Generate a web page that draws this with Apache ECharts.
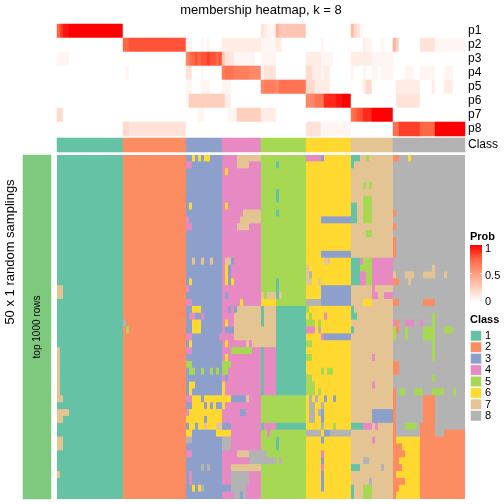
<!DOCTYPE html>
<html><head><meta charset="utf-8">
<script src="https://cdn.jsdelivr.net/npm/echarts@6/dist/echarts.min.js"></script>
<style>html,body{margin:0;padding:0;background:#fff}#c{width:504px;height:504px}</style>
</head><body><div id="c"></div>
<script>
// ---------- data ----------
const probNames = ['p1','p2','p3','p4','p5','p6','p7','p8'];
// probability level characters: index/20 = probability
const probLevelChars = "0123456789ABCDEFGHIJK";
// run-length encoded rows (symbol, optional x count), '|' separates class blocks
const probRows = [
  "F H Jx2 Kx18|0x21|0x12|0x13|3 2 1x3 8 6x9|0x15|7 4 3 1 0x10|0x24",
  "0x22|Fx2 Gx19|1x2 0x3 1 0 1 0x4|2x13|1x5 2x2 0x8|0x5 1 0x9|0x4 2 1x2 0x3 1 0x3|8 5 0x7 3x5 1x10",
  "1x4 0x18|0x21|C E F G F G G H G G F G|6 3x3 1x7 0x2|1x5 0x10|2x5 1x4 0x6|2x7 1x7|0x24",
  "0x22|0 1 0x19|3x2 0x3 1 0x6|D Ex3 Dx5 Cx4|1 3x4 0x10|4x2 2x3 1 2x2 0x7|1 0x3 1 0x2 1x2 0 1x4|0x4 1x3 0x2 1x5 0x3 1x3 0x4",
  "0x22|0x21|1x2 0x3 1x3 0x4|1x3 0x10|C Dx4 C Ex9|4x3 2x5 0x7|0x4 2 4x2 0x7|0 2x8 0x4 2 0x3 2x3 0x4",
  "0x22|0x21|1 5x11|5 2x2 0x10|0x15|Cx3 Ex3 Ix4 Jx2 Kx3|0x14|0 3x8 0x15",
  "4x2 0x20|0x21|0x4 1x2 0x6|0x2 1x3 5x8|2x5 0x10|0x15|E F G G Ix3 Kx7|0x24",
  "0x22|4x2 3x19|0x12|0x13|0x15|3x5 1x10|0x14|Ex2 Hx7 Fx5 Kx10"
];
const classNames = ['1','2','3','4','5','6','7','8'];
const classColors = ['#66C2A5','#FC8D62','#8DA0CB','#E78AC3','#A6D854','#FFD92F','#E5C494','#B3B3B3'];
const classSizes = [22,21,12,13,15,15,14,24];
const probColors = ['#FFFFFF','#FFCFBE','#FF9E81','#FF6846','#FF0000'];
const probTicks = ['1','0.5','0'];
// 50 random samplings x 136 columns (class per cell), run-length encoded
const samplingRows = [
"1x22|2x21|3x2 6 3 6 3 6x2 3x4|4x5 7x8|5x15|4x5 3 6x9|1x3 7x2 5 7x8|2x2 8x3 6 8x18",
"1x22|2x21|4x2 3x10|4x5 7x4 4x4|5x5 1 5x9|6x15|1 7x13|8x24",
"1x22|2x21|3x12|4 6 4x11|5x15|6x15|7x14|8x24",
"1x22|2x21|3x12|4x13|5x15|6x15|7x14|8x24",
"1x22|2x21|3x12|4x13|5x15|6x15|7x4 5 7 5 7x7|8x24",
"1x22|2x21|3x12|4x13|5x5 1 5x9|6x15|7x14|8x24",
"1x22|2x21|3x12|4x13|5x5 1 5x9|6x15|7x4 5x3 7x7|8x24",
"1x22|2x21|3 6 3x10|4 6 4x11|5x15|6x15|1x2 7x2 5x3 7x7|8x24",
"1x22|2x21|3x12|4x7 7x6|5x5 1 5x9|6x15|1x2 7x2 5x3 7x7|2 8x23",
"1x22|2x21|4 3x11|4x6 7x7|5x15|6x5 3x10|1x2 7x2 5x3 7x7|8x24",
"1x22|2x21|4x2 3x10|4x5 7x4 4x4|5x15|6x15|7x14|2 8x23",
"1x22|2x21|3x12|4x13|5x15|6x15|7x5 5x2 7x7|8x24",
"1x22|2x21|3x12|4x13|5x15|6x15|7x14|2 8x23",
"1x22|2x21|3x12|4x13|5x15|6x15|7x14|2 8x23",
"1x22|2x21|3x12|4x13|5x15|6x5 3x10|7x14|2 8x23",
"1x22|2x21|3x2 7 3x2 7 3x2 7 3x3|4 7x2 3 4x9|5x15|6x6 7x2 6x7|1x3 4 5x3 4x7|8x24",
"1x22|2x21|3x12|4 6 3 4x10|5x15|7 6x14|1x3 5x4 4x7|8x13 7 8x10",
"1x22|2x21|3x12|4 6 3 4x10|5x15|7 8 6x13|1x3 4x2 5x2 4x7|7 8x3 7x3 8x3 7x4 8x3 7 8x6",
"1x22|2x21|3 6 3x10|4 6 3 6 4x9|5x5 1 5x9|7x2 6x2 7 6x10|1x3 4x2 5x2 4x7|2x2 8x3 7 8x18",
"7x2 1x20|2x21|4 3x11|4x13|5x5 1 5x9|6x5 3x10|7x7 4 7x6|8x24",
"7x2 1x20|2x21|3x12|4 3 4x11|7 5 7x3 1 7 5x8|6x5 3x10|7x7 4x2 7x2 4x3|8x24",
"1x22|2x21|4x2 3x10|4x6 6 4x6|6x5 5x10|8x5 3x10|7x4 6x3 7x7|2x2 8x8 2x4 8x10",
"1x22|2x21|3x2 6x3 3x7|4x2 3 4 3 7x8|1 7x4 1x10|5 6x14|1 7x13|8x24",
"1x22|2x21|3 4x2 3x2 4 3x6|4x4 7x9|1 7x4 1x10|6 5 6x4 4 6x8|1x2 7x12|8x13 5 8x10",
"1x22|8 2x20|3x2 6x3 3x7|4 6 4x2 7x9|1 7x4 1x10|5x3 6 5 6x10|7x14|4 2 8x2 4x3 8x2 4 8x3 5 8x10",
"1x22|2 5 2x19|3x2 6x3 3x7|4 3x3 7x9|7x5 1x10|4x3 6 8 6x10|1 7x13|5 2 8x2 5 8x5 5x4 8x3 5x3 8x4",
"1x22|2x21|4x2 3x9 4|4x4 7x9|7x5 1x10|6x5 4 3x9|7x14|5 8x3 5 8x5 5x4 8x10",
"1x22|2x21|3 6 3x10|4 6 4x6 7 4 7x3|7x5 1x10|5x2 6x13|7x14|8x13 5 8x10",
"7 1x21|2x21|4x2 3x10|4x3 5x7 4x3|1 4x4 1x10|6x15|7x14|8x13 5 8x10",
"7 1x21|2x21|3x12|4 6 4x11|1 4x4 1x10|5x2 6x13|7x7 4 7x6|8x13 5 8x10",
"7 1x21|2x21|5x2 3x10|5x3 4x10|1 4x4 1x10|6x15|7x14|2x2 8x22",
"7 1x21|2x21|3 5x2 3x2 5 3x2 5 3 5 3|5x2 4x11|1 4x4 1x10|6x5 5 6 5x2 6x6|7x14|2x2 8x22",
"7 1x21|2x21|3x12|4 3 4x11|1 4x4 1x10|5x2 6x13|7x14|8x13 5 8x10",
"7 1x21|2x21|3 6x2 3x9|6 4x12|1 4x4 1x10|5x3 6x12|7x7 4 7x6|8x24",
"7 1x21|2x21|3 6 3x10|6 4x12|1 4x4 1x10|5x3 6 5 6x10|7x14|2 8 5x2 8x3 5x3 8x3 5x4 8x3 5 8x3",
"7x2 1x20|2x21|4x2 6x3 3 6x6|6x3 3x5 7 4x4|5x15|6 8 6 8 6x2 3 6x2 3 6x5|7x14|2 8x9 2x4 8x10",
"1x22|2x21|3x2 6x4 3 6 3 6 3x2|6 4x12|5x15|6 8x2 6x2 8 6x9|7x14|2 8x9 2x4 8x10",
"7x4 1x18|2x21|4 6x11|4x6 3x2 4x5|5x15|6 8x2 6 8 3 6x9|7x7 3x7|2 8x9 2x4 8x10",
"7x2 1x20|2x21|6x6 3 6x5|4x13|5x15|6 8x2 6x2 3 6x9|7x7 3x7|2 8x9 2x4 8x10",
"1x22|2x21|3 6x2 3 6x2 7 6x3 7x2|3x3 4x10|1 4x4 1x10|6x5 8 6x3 5 6x5|1x4 4x3 7 4 7x5|2 8x3 5x4 8 2x5 8x10",
"1x22|2x21|6x2 3x8 6x2|6x3 4x10|5x2 4 5x12|8x5 6 3x2 8x7|7x14|2 8x8 2x5 8x3 2x7",
"7x2 1x20|2x21|8x2 3x10|8x3 4x10|5x5 1 5x9|6x5 3 6x9|7x7 4 7x6|2 6x8 2x15",
"7x2 1x20|2x21|3x12|8x3 4x10|5x5 1 5x9|6x15|7x14|2x3 6x6 2x15",
"1x22|2x21|4x2 3x10|4x5 7x4 8x4|8x2 5x13|6x5 4 6x9|7x14|2x4 6x5 2x15",
"1x22|2x21|3x12|4x9 8x4|8x5 5 8 5x8|6x5 3 6x9|7x4 8x2 7x8|2x2 6x7 2x15",
"1x22|2x21|3x5 8 3 8 3x4|4x3 7x10|5x15|6x5 4 6x9|1x3 7x7 8 7x3|2x3 6x6 2x15",
"7 1x21|2x21|3 4 3x10|4x3 8x6 4x4|5x15|6x5 3 6x9|7x14|2 6x8 2x15",
"1x22|2x21|3 4 3x10|4x3 8x6 4x4|5x15|6x5 3 6x9|7x6 8 7x7|2x4 6x5 2x15",
"1x22|2x21|3x2 6 3 6 8 3x6|3x3 8x5 4x5|5x15|6x5 3 6x9|1 7x3 5x3 7x7|2x2 6x7 2x15",
"1x22|2x21|3x12|4x4 8x2 3 8 4x5|5x15|6x15|1 7x3 5x3 7x7|2 6x8 2x15"
];
const sideLabel = 'top 1000 rows';
const rowTitle = '50 x 1 random samplings';

// ---------- decoding ----------
function decode(s){
  const out=[];
  s.replace(/\|/g,' ').trim().split(/\s+/).forEach(t=>{
    const sym=t[0]; const n=t.length>1?parseInt(t.slice(2),10):1;
    for(let i=0;i<n;i++) out.push(sym);
  });
  return out;
}
const N = classSizes.reduce((a,b)=>a+b,0);
const cols = Array.from({length:N},(_,i)=>String(i));
function fix(arr, fill){ while(arr.length<N) arr.push(fill); return arr.slice(0,N); }

const probData=[];
probRows.forEach((s,r)=>{
  fix(decode(s),'0').forEach((ch,c)=>probData.push([c,r,probLevelChars.indexOf(ch)/20]));
});
const classRowData=[];
let ci=0;
classSizes.forEach((n,k)=>{for(let i=0;i<n;i++){classRowData.push([ci,0,k+1]);ci++;}});
const mainData=[];
samplingRows.forEach((s,r)=>{
  fix(decode(s),'8').forEach((ch,c)=>mainData.push([c,r,parseInt(ch,10)]));
});
const rowIdx = samplingRows.map((_,i)=>String(i));

const FONT = "'Liberation Sans', Arial, Helvetica, sans-serif";
const L=57, W=408;
function hideAxis(extra){ return Object.assign({axisLine:{show:false},axisTick:{show:false},splitLine:{show:false},axisLabel:{show:false}},extra||{}); }

const chart = echarts.init(document.getElementById('c'), null, {renderer:'canvas'});
const graphics = [
  {type:'text', x:261, y:10, style:{text:'membership heatmap, k = 8', textAlign:'center', textVerticalAlign:'middle', font:'13px '+FONT, fill:'#000'}},
  {type:'text', x:10, y:252, rotation:Math.PI/2, style:{text:rowTitle, textAlign:'center', textVerticalAlign:'middle', font:'13px '+FONT, fill:'#000'}},
  {type:'text', x:37.5, y:327, rotation:Math.PI/2, z:10, style:{text:sideLabel, textAlign:'center', textVerticalAlign:'middle', font:'10px '+FONT, fill:'#000'}},
  {type:'text', x:470, y:237, style:{text:'Prob', textAlign:'left', textVerticalAlign:'middle', font:'bold 11px '+FONT, fill:'#000'}},
  {type:'rect', shape:{x:470, y:245, width:12, height:57}, style:{fill:new echarts.graphic.LinearGradient(0,1,0,0,probColors.map((c,i)=>({offset:i/(probColors.length-1),color:c})))}},
  {type:'line', shape:{x1:470,y1:273.5,x2:472,y2:273.5}, style:{stroke:'#fff',lineWidth:1}},
  {type:'line', shape:{x1:480,y1:273.5,x2:482,y2:273.5}, style:{stroke:'#fff',lineWidth:1}},
  {type:'text', x:470, y:320, style:{text:'Class', textAlign:'left', textVerticalAlign:'middle', font:'bold 11px '+FONT, fill:'#000'}}
];
const tickY=[249,275.5,302];
probTicks.forEach((t,i)=>graphics.push({type:'text', x:485, y:tickY[i], style:{text:t, textAlign:'left', textVerticalAlign:'middle', font:'11px '+FONT, fill:'#000'}}));
classNames.forEach((n,i)=>{
  const y0 = 330.5 + i*11.43;
  graphics.push({type:'rect', shape:{x:470.5, y:y0, width:11, height:10.5}, style:{fill:classColors[i], stroke:'#ffffff', lineWidth:0.5}});
  graphics.push({type:'text', x:485, y:y0+5.4, style:{text:n, textAlign:'left', textVerticalAlign:'middle', font:'11px '+FONT, fill:'#000'}});
});

// main sampling matrix: cells drawn through the axes, slightly overlapped vertically to avoid seams
function renderCell(params, api){
  const p = api.coord([api.value(0), api.value(1)]);
  const s = api.size([1,1]);
  return {type:'rect', shape:{x:p[0]-s[0]/2, y:p[1]-s[1]/2-0.5, width:s[0], height:s[1]+1},
          style:{fill:classColors[api.value(2)-1]}};
}

chart.setOption({
  animation:false,
  backgroundColor:'#ffffff',
  grid:[
    {left:L, top:24, width:W, height:112},
    {left:L, top:138, width:W, height:14},
    {left:L, top:155, width:W, height:344},
    {left:23, top:155, width:28, height:344}
  ],
  xAxis:[
    hideAxis({type:'category', data:cols, gridIndex:0}),
    hideAxis({type:'category', data:cols, gridIndex:1}),
    hideAxis({type:'category', data:cols, gridIndex:2}),
    hideAxis({type:'category', data:['0'], gridIndex:3})
  ],
  yAxis:[
    {type:'category', data:probNames, gridIndex:0, inverse:true, position:'right', axisLine:{show:false}, axisTick:{show:false}, splitLine:{show:false}, axisLabel:{interval:0, margin:3, fontSize:12, color:'#000', fontFamily:FONT}},
    {type:'category', data:['Class'], gridIndex:1, position:'right', axisLine:{show:false}, axisTick:{show:false}, splitLine:{show:false}, axisLabel:{interval:0, margin:3, fontSize:12, color:'#000', fontFamily:FONT}},
    hideAxis({type:'category', data:rowIdx, gridIndex:2, inverse:true}),
    hideAxis({type:'category', data:['0'], gridIndex:3})
  ],
  visualMap:[
    {type:'continuous', seriesIndex:0, min:0, max:1, show:false, inRange:{color:probColors}},
    {type:'piecewise', seriesIndex:1, show:false, pieces:classNames.map((n,i)=>({value:i+1, color:classColors[i]}))},
    {type:'piecewise', seriesIndex:3, show:false, pieces:[{value:1, color:'#7FC97F'}]}
  ],
  series:[
    {type:'heatmap', xAxisIndex:0, yAxisIndex:0, data:probData, progressive:0, itemStyle:{borderWidth:0}, emphasis:{disabled:true}},
    {type:'heatmap', xAxisIndex:1, yAxisIndex:1, data:classRowData, progressive:0, itemStyle:{borderWidth:0}, emphasis:{disabled:true}},
    {type:'custom', xAxisIndex:2, yAxisIndex:2, data:mainData, renderItem:renderCell, encode:{x:0, y:1}, progressive:0, clip:true, silent:true},
    {type:'heatmap', xAxisIndex:3, yAxisIndex:3, data:[[0,0,1]], progressive:0, itemStyle:{borderWidth:0}, emphasis:{disabled:true}}
  ],
  graphic:graphics
});
</script></body></html>
